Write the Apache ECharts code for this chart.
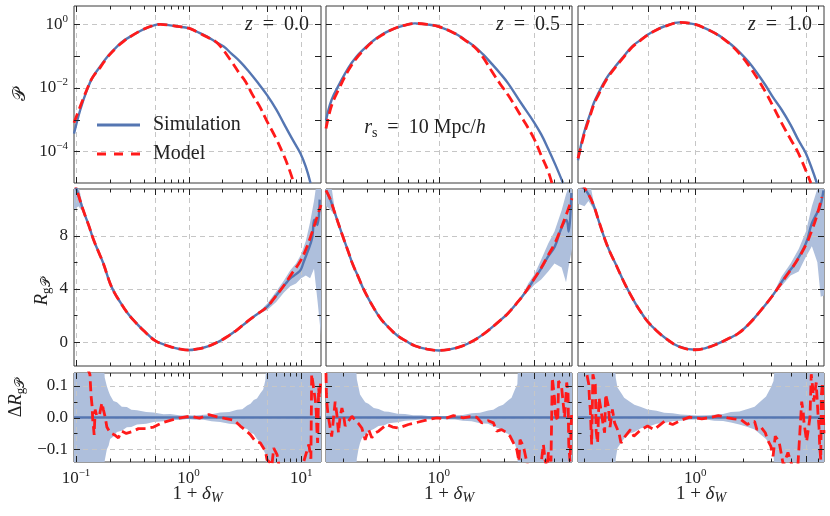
<!DOCTYPE html>
<html>
<head>
<meta charset="UTF-8">
<title></title>
<script type="text/javascript" src="https://cdn.jsdelivr.net/npm/echarts@6/dist/echarts.min.js"></script>
<style type="text/css">
* { padding: 0; margin: 0; }
#main { width: 830px; height: 516px; background: #fff; }
</style>
</head>
<body>
<div id="main"></div>
<script type="text/javascript">
// ---- column 0 : z = 0.0 ----
var pdfSimX0 = [0.096, 0.109, 0.125, 0.14, 0.164, 0.19, 0.231, 0.27, 0.324, 0.397, 0.5, 0.56, 0.687, 0.8, 1.0, 1.2, 1.46, 1.7, 2.05, 2.4, 2.88, 3.4, 4.06, 4.98, 6.0, 7.0, 8.3, 9.86, 11.0, 12.1];
var pdfSim0 = [3.6e-4, 2.0e-3, 8.5e-3, 0.021, 0.047, 0.095, 0.20, 0.32, 0.47, 0.70, 0.95, 1.02, 0.93, 0.86, 0.76, 0.575, 0.41, 0.295, 0.20, 0.12, 0.066, 0.034, 0.0155, 5.9e-3, 2.1e-3, 7.6e-4, 2.5e-4, 8.5e-5, 3.2e-5, 1.0e-5];
var pdfModX0 = [0.096, 0.11, 0.125, 0.14, 0.165, 0.19, 0.23, 0.27, 0.32, 0.397, 0.5, 0.56, 0.687, 0.8, 1.0, 1.2, 1.46, 1.8, 2.35, 2.8, 3.2, 3.7, 4.3, 5.0, 5.9, 6.8, 7.7, 8.6];
var pdfMod0 = [7.9e-4, 2.8e-3, 8.9e-3, 0.021, 0.045, 0.092, 0.19, 0.31, 0.46, 0.70, 0.95, 1.0, 0.93, 0.86, 0.76, 0.57, 0.40, 0.26, 0.076, 0.03, 0.0158, 6.0e-3, 2.5e-3, 8.5e-4, 2.8e-4, 9.5e-5, 3.2e-5, 1.0e-5];

var rSimX0 = [0.095, 0.102, 0.116, 0.13, 0.143, 0.16, 0.175, 0.201, 0.22, 0.247, 0.28, 0.324, 0.4, 0.505, 0.6, 0.687, 0.83, 1.0, 1.2, 1.46, 1.8, 2.2, 2.7, 3.31, 4.0, 4.98, 5.7, 6.55, 7.3, 8.04, 9.0, 9.86, 10.5, 11.3, 12.5, 13.1, 13.9, 14.6];
var rSim0 = [12.2, 11.4, 9.9, 8.75, 7.7, 6.7, 5.9, 4.4, 3.7, 3.0, 2.3, 1.65, 0.85, 0.10, -0.18, -0.35, -0.52, -0.6, -0.52, -0.35, -0.02, 0.40, 0.92, 1.53, 2.05, 2.65, 3.25, 3.9, 4.4, 4.8, 5.1, 5.4, 6.0, 6.7, 7.8, 9.2, 8.8, 10.7];
var rModX0 = [0.095, 0.102, 0.116, 0.13, 0.143, 0.16, 0.175, 0.201, 0.22, 0.247, 0.28, 0.324, 0.4, 0.505, 0.6, 0.687, 0.83, 1.0, 1.2, 1.46, 1.8, 2.2, 2.7, 3.31, 4.0, 4.98, 5.7, 6.55, 7.3, 8.04, 9.86, 11.3, 12.9, 15];
var rMod0 = [12.3, 11.4, 9.9, 8.75, 7.7, 6.7, 5.9, 4.4, 3.7, 3.0, 2.3, 1.65, 0.85, 0.10, -0.18, -0.35, -0.52, -0.6, -0.52, -0.35, -0.02, 0.40, 0.92, 1.53, 2.05, 2.65, 3.25, 3.9, 4.45, 5.0, 6.1, 7.2, 8.6, 10.3];
// band pieces are separated by null
var rBandX0 = [0.095, 0.105, 0.116, 0.13, null, 4.0, 5.0, 6.0, 7.0, 8.0, 9.0, 10, 11, 12, 13, 14, 15];
var rBandLo0 = [9.9, 10.2, 9.75, 8.75, null, 2.05, 2.4, 3.0, 3.7, 4.2, 4.4, 4.8, 5.0, 4.8, 5.5, 3.0, 0.5];
var rBandHi0 = [12.5, 11.8, 10.1, 8.75, null, 2.05, 2.9, 3.8, 4.6, 5.4, 5.9, 6.6, 7.6, 9.0, 10.6, 12.5, 12.5];

var dBandX0 = [0.095, 0.175, 0.18, 0.188, 0.195, 0.201, 0.215, 0.231, 0.255, 0.283, 0.31, 0.348, 0.42, 0.489, 0.6, 0.687, 0.85, 0.967, 1.15, 1.36, 1.6, 1.91, 2.3, 2.70, 3.0, 3.31, 3.55, 3.79, 4.05, 4.34, 4.6, 4.81, 4.98, 15];
var dBandHi0 = [0.2, 0.2, 0.125, 0.098, 0.082, 0.07, 0.052, 0.048, 0.034, 0.033, 0.024, 0.023, 0.017, 0.016, 0.01, 0.011, 0.006, 0.007, 0.006, 0.009, 0.01, 0.016, 0.017, 0.024, 0.026, 0.038, 0.043, 0.055, 0.06, 0.076, 0.088, 0.118, 0.2, 0.2];
var dBandLo0 = [-0.2, -0.2, -0.135, -0.1, -0.088, -0.068, -0.06, -0.046, -0.042, -0.031, -0.03, -0.022, -0.02, -0.014, -0.012, -0.008, -0.008, -0.005, -0.007, -0.007, -0.012, -0.014, -0.02, -0.022, -0.032, -0.036, -0.048, -0.052, -0.068, -0.078, -0.1, -0.115, -0.2, -0.2];
var dMod0 = [[0.095, 0.18], [0.125, 0.16], [0.133, 0.135], [0.136, 0.07], [0.139, 0.035], [0.141, -0.01], [0.143, -0.03], [0.145, -0.055], [0.148, 0.025], [0.153, 0.004], [0.162, 0.01], [0.17, 0.046], [0.175, 0.025], [0.182, 0.0], [0.188, -0.03], [0.201, -0.048], [0.22, -0.055], [0.238, -0.064], [0.255, -0.043], [0.28, -0.05], [0.313, -0.045], [0.359, -0.035], [0.42, -0.035], [0.489, -0.03], [0.58, -0.017], [0.7, -0.008], [0.844, -0.001], [1.035, 0.004], [1.25, -0.002], [1.51, 0.009], [1.79, 0.002], [2.1, -0.003], [2.52, -0.008], [2.88, -0.027], [3.2, -0.04], [3.54, -0.054], [3.92, -0.075], [4.34, -0.08], [4.81, -0.106], [4.98, -0.133], [5.33, -0.143], [5.5, -0.15], [5.7, -0.096], [6.11, -0.117], [6.5, -0.17], [9.0, -0.22], [11.7, -0.085], [12.2, -0.13], [12.4, 0.136], [12.7, 0.11], [13.4, 0.05], [13.6, 0.02], [13.8, -0.04], [14.0, -0.08], [14.3, 0.094], [14.5, 0.062], [15, 0.12]];

// ---- column 1 : z = 0.5 ----
var pdfSimX1 = [0.150, 0.165, 0.189, 0.218, 0.25, 0.288, 0.33, 0.382, 0.44, 0.5, 0.58, 0.668, 0.82, 1.0, 1.31, 1.55, 1.83, 2.1, 2.42, 2.8, 3.21, 4.01, 4.94, 5.6, 6.28, 7.1, 8.08];
var pdfSim1 = [9.5e-4, 4.2e-3, 0.0138, 0.042, 0.095, 0.178, 0.30, 0.47, 0.65, 0.81, 0.97, 1.08, 1.0, 0.85, 0.52, 0.33, 0.20, 0.115, 0.059, 0.029, 0.0138, 3.2e-3, 8.5e-4, 3.4e-4, 1.23e-4, 3.8e-5, 1.0e-5];
var pdfModX1 = [0.150, 0.165, 0.189, 0.218, 0.25, 0.288, 0.33, 0.382, 0.44, 0.5, 0.58, 0.668, 0.82, 1.0, 1.31, 1.55, 1.83, 2.1, 2.42, 2.8, 3.21, 4.01, 4.94, 5.6, 6.28, 6.7];
var pdfMod1 = [5.2e-4, 2.8e-3, 0.0105, 0.035, 0.085, 0.166, 0.29, 0.45, 0.64, 0.81, 0.97, 1.07, 1.0, 0.85, 0.52, 0.32, 0.19, 0.093, 0.035, 0.0135, 5.9e-3, 1.23e-3, 2.6e-4, 7.4e-5, 2.4e-5, 1.0e-5];

var rSimX1 = [0.150, 0.160, 0.174, 0.195, 0.218, 0.236, 0.258, 0.28, 0.305, 0.34, 0.382, 0.44, 0.5, 0.58, 0.668, 0.82, 1.0, 1.2, 1.46, 1.8, 2.17, 2.65, 3.21, 3.7, 4.24, 4.94, 5.62, 6.28, 7.03, 7.86, 8.55, 8.89, 9.3];
var rSim1 = [11.4, 10.8, 9.7, 8.2, 6.8, 5.8, 4.9, 4.05, 3.3, 2.45, 1.67, 1.0, 0.47, 0.06, -0.28, -0.53, -0.63, -0.55, -0.33, 0.12, 0.67, 1.4, 2.17, 2.9, 3.67, 4.67, 5.55, 6.42, 7.17, 8.55, 9.17, 8.3, 11.2];
var rModX1 = [0.150, 0.160, 0.174, 0.195, 0.218, 0.236, 0.258, 0.28, 0.305, 0.34, 0.382, 0.44, 0.5, 0.58, 0.668, 0.82, 1.0, 1.2, 1.46, 1.8, 2.17, 2.65, 3.21, 3.7, 4.24, 4.94, 5.62, 6.28, 7.03, 7.86, 8.55, 9.4];
var rMod1 = [11.4, 10.8, 9.7, 8.2, 6.8, 5.8, 4.9, 4.05, 3.3, 2.45, 1.67, 1.0, 0.47, 0.06, -0.28, -0.53, -0.63, -0.55, -0.33, 0.12, 0.67, 1.4, 2.17, 2.9, 3.67, 4.7, 5.6, 6.5, 7.4, 8.6, 9.6, 10.8];
var rBandX1 = [0.15, 0.16, 0.174, 0.19, null, 4.0, 4.5, 5.0, 5.6, 6.3, 7.0, 7.9, 8.5, 9.0, 9.4];
var rBandLo1 = [10.2, 10.0, 9.5, 8.5, null, 3.35, 3.8, 4.3, 4.7, 5.3, 5.9, 5.6, 4.5, 6.0, 7.0];
var rBandHi1 = [12.5, 12.5, 9.95, 8.5, null, 3.35, 4.4, 5.1, 6.2, 7.4, 8.3, 9.9, 11.1, 11.8, 12.5];

var dBandX1 = [0.15, 0.245, 0.252, 0.259, 0.266, 0.274, 0.29, 0.306, 0.335, 0.363, 0.4, 0.43, 0.5, 0.567, 0.65, 0.751, 0.87, 1.0, 1.15, 1.31, 1.5, 1.74, 2.0, 2.30, 2.5, 2.73, 2.95, 3.22, 3.4, 3.61, 3.75, 3.82, 9.4];
var dBandHi1 = [0.2, 0.2, 0.12, 0.096, 0.072, 0.064, 0.048, 0.043, 0.03, 0.027, 0.019, 0.018, 0.012, 0.011, 0.007, 0.007, 0.004, 0.005, 0.004, 0.007, 0.008, 0.013, 0.015, 0.022, 0.024, 0.035, 0.04, 0.054, 0.062, 0.09, 0.105, 0.2, 0.2];
var dBandLo1 = [-0.2, -0.2, -0.13, -0.1, -0.08, -0.066, -0.055, -0.044, -0.036, -0.027, -0.024, -0.018, -0.015, -0.01, -0.009, -0.006, -0.006, -0.004, -0.006, -0.006, -0.01, -0.012, -0.018, -0.02, -0.028, -0.034, -0.045, -0.052, -0.068, -0.085, -0.11, -0.2, -0.2];
var dMod1 = [[0.150, 0.14], [0.151, 0.075], [0.152, 0.05], [0.155, 0.01], [0.165, -0.06], [0.175, 0.05], [0.18, 0.01], [0.182, -0.012], [0.185, -0.048], [0.19, 0.0], [0.196, 0.03], [0.201, 0.01], [0.207, -0.027], [0.22, -0.01], [0.232, 0.004], [0.245, -0.009], [0.26, -0.02], [0.274, -0.033], [0.29, -0.07], [0.3, -0.05], [0.307, -0.038], [0.324, -0.064], [0.34, -0.05], [0.363, -0.043], [0.417, -0.022], [0.46, -0.03], [0.508, -0.033], [0.6, -0.022], [0.7, -0.015], [0.794, -0.009], [0.967, -0.001], [1.1, -0.004], [1.28, 0.006], [1.51, -0.001], [1.7, 0.003], [1.89, 0.001], [2.06, -0.017], [2.3, -0.01], [2.51, -0.017], [2.65, -0.043], [2.88, -0.038], [3.14, -0.048], [3.32, -0.059], [3.51, -0.08], [3.71, -0.1], [3.85, -0.138], [3.92, -0.07], [4.15, -0.09], [4.6, -0.18], [5.4, -0.2], [5.81, -0.085], [5.97, -0.133], [6.2, -0.16], [6.32, -0.11], [6.6, -0.138], [6.75, 0.125], [7.0, 0.062], [7.1, 0.01], [7.4, -0.012], [7.5, 0.115], [7.9, 0.094], [8.3, 0.0], [8.6, 0.11], [8.8, 0.073], [8.9, -0.085], [9.09, -0.138], [9.35, 0.02]];

// ---- column 2 : z = 1.0 ----
var pdfSimX2 = [0.182, 0.193, 0.205, 0.218, 0.23, 0.245, 0.275, 0.313, 0.355, 0.399, 0.45, 0.5, 0.57, 0.647, 0.796, 1.0, 1.15, 1.34, 1.52, 1.70, 1.93, 2.17, 2.45, 2.77, 3.1, 3.52, 4.0, 4.49, 5.0, 5.86];
var pdfSim2 = [5.2e-5, 2.2e-4, 6.5e-4, 1.6e-3, 3.5e-3, 6.8e-3, 0.020, 0.047, 0.10, 0.20, 0.32, 0.47, 0.68, 0.89, 1.16, 1.0, 0.76, 0.52, 0.35, 0.224, 0.125, 0.066, 0.030, 0.0123, 5.0e-3, 2.0e-3, 6.8e-4, 2.2e-4, 8.5e-5, 1.0e-5];
var pdfModX2 = [0.182, 0.193, 0.205, 0.218, 0.23, 0.245, 0.275, 0.313, 0.355, 0.399, 0.45, 0.5, 0.57, 0.647, 0.796, 1.0, 1.15, 1.34, 1.52, 1.70, 1.93, 2.17, 2.45, 2.77, 3.1, 3.52, 4.0, 4.49, 5.37];
var pdfMod2 = [6.0e-5, 1.9e-4, 5.6e-4, 1.4e-3, 3.1e-3, 6.0e-3, 0.018, 0.044, 0.095, 0.19, 0.31, 0.46, 0.67, 0.87, 1.15, 1.0, 0.76, 0.52, 0.34, 0.214, 0.11, 0.052, 0.021, 7.6e-3, 2.6e-3, 7.6e-4, 2.4e-4, 8.5e-5, 1.0e-5];

var rSimX2 = [0.184, 0.2, 0.212, 0.228, 0.245, 0.270, 0.29, 0.313, 0.362, 0.418, 0.46, 0.5, 0.57, 0.647, 0.785, 1.0, 1.15, 1.34, 1.6, 1.88, 2.2, 2.51, 3.05, 3.70, 4.27, 5.0, 5.45, 5.86, 6.15, 6.45];
var rSim2 = [11.8, 11.5, 11.1, 10.3, 9.17, 7.67, 6.75, 5.92, 4.3, 2.93, 2.15, 1.55, 0.85, 0.30, -0.33, -0.58, -0.47, -0.2, 0.22, 0.67, 1.4, 2.17, 3.42, 4.92, 5.92, 7.42, 8.93, 9.67, 10.17, 11.4];
var rModX2 = [0.19, 0.212, 0.228, 0.245, 0.270, 0.29, 0.313, 0.362, 0.418, 0.46, 0.5, 0.57, 0.647, 0.785, 1.0, 1.15, 1.34, 1.6, 1.88, 2.2, 2.51, 3.05, 3.70, 4.27, 5.0, 5.45, 5.86, 6.3];
var rMod2 = [12.0, 11.1, 10.3, 9.17, 7.67, 6.75, 5.92, 4.3, 2.93, 2.15, 1.55, 0.85, 0.30, -0.33, -0.58, -0.47, -0.2, 0.22, 0.67, 1.4, 2.17, 3.42, 4.85, 5.9, 7.3, 8.4, 9.5, 10.9];
var rBandX2 = [0.182, 0.2, 0.212, 0.228, 0.25, null, 3.05, 3.5, 4.0, 4.5, 5.0, 5.45, 5.9, 6.2, 6.5];
var rBandLo2 = [10.4, 10.2, 10.6, 10.0, 8.9, null, 3.42, 4.2, 5.0, 5.3, 6.4, 7.2, 6.0, 3.4, 3.5];
var rBandHi2 = [12.5, 12.5, 12.5, 10.6, 8.9, null, 3.42, 4.9, 5.9, 7.0, 8.3, 10.2, 11.5, 12.5, 12.5];

var dBandX2 = [0.182, 0.308, 0.315, 0.323, 0.34, 0.356, 0.385, 0.413, 0.455, 0.5, 0.57, 0.637, 0.72, 0.81, 0.92, 1.03, 1.17, 1.32, 1.5, 1.68, 1.9, 2.14, 2.37, 2.6, 2.8, 3.0, 3.12, 3.24, 6.5];
var dBandHi2 = [0.2, 0.2, 0.125, 0.094, 0.078, 0.062, 0.05, 0.04, 0.033, 0.025, 0.021, 0.015, 0.013, 0.0095, 0.008, 0.006, 0.007, 0.009, 0.011, 0.017, 0.019, 0.027, 0.034, 0.052, 0.066, 0.094, 0.115, 0.2, 0.2];
var dBandLo2 = [-0.2, -0.2, -0.13, -0.096, -0.08, -0.066, -0.05, -0.046, -0.034, -0.03, -0.02, -0.017, -0.012, -0.01, -0.007, -0.006, -0.006, -0.01, -0.011, -0.016, -0.022, -0.03, -0.038, -0.054, -0.068, -0.092, -0.12, -0.2, -0.2];
var dMod2 = [[0.182, 0.17], [0.2, 0.15], [0.207, 0.136], [0.213, 0.104], [0.215, 0.057], [0.218, 0.02], [0.22, -0.038], [0.222, -0.085], [0.226, 0.136], [0.234, 0.104], [0.237, -0.043], [0.242, -0.08], [0.247, 0.062], [0.252, 0.036], [0.262, -0.022], [0.268, -0.048], [0.272, 0.073], [0.283, 0.036], [0.29, -0.03], [0.30, 0.025], [0.31, -0.017], [0.33, -0.048], [0.34, -0.08], [0.36, -0.06], [0.39, -0.038], [0.41, -0.059], [0.45, -0.04], [0.5, -0.027], [0.55, -0.038], [0.64, -0.012], [0.72, -0.022], [0.82, -0.008], [0.92, 0.001], [1.1, -0.004], [1.25, 0.0], [1.4, 0.006], [1.6, -0.001], [1.75, -0.004], [1.93, -0.006], [2.13, -0.022], [2.25, -0.015], [2.37, -0.012], [2.45, -0.038], [2.6, -0.03], [2.77, -0.048], [2.86, -0.07], [3.0, -0.09], [3.1, -0.122], [3.2, -0.059], [3.38, -0.075], [3.6, -0.15], [3.85, -0.11], [4.0, -0.138], [4.4, -0.19], [4.7, 0.05], [4.8, 0.02], [4.85, -0.012], [5.05, -0.075], [5.3, 0.0], [5.4, 0.136], [5.5, 0.1], [5.6, 0.05], [5.8, 0.11], [5.95, 0.015], [6.05, -0.033], [6.1, -0.085], [6.2, -0.133], [6.25, 0.067], [6.35, 0.11], [6.5, -0.05]];

// panel texts and ticks
var zLabels = ['0.0', '0.5', '1.0'];
var xMajor = [0.1, 0.5, 1, 5, 10];
var xMinor = [0.2, 0.3, 0.4, 0.6, 0.7, 0.8, 0.9, 2, 3, 4, 6, 7, 8, 9];
var yGrid = [[1e-4, 1e-2, 1], [0, 4, 8], [-0.1, 0, 0.1]];
var yTickMaj = [[1e-5, 1e-4, 1e-3, 1e-2, 1e-1, 1], [0, 4, 8], [-0.1, 0, 0.1]];
var yTickMin = [[], [2, 6, 10], [-0.05, 0.05]];

var xLim = [[0.096, 15], [0.15, 9.4], [0.182, 6.5]];
var yLim = [[1e-5, 3.8], [-1.8, 11.5], [-0.14, 0.14]];

var cols = [{ left: 74, width: 247 }, { left: 326, width: 246 }, { left: 578, width: 246 }];
var rows = [{ top: 6, height: 177 }, { top: 189, height: 177 }, { top: 373, height: 89 }];

var FONT = '"Liberation Serif", "DejaVu Serif", serif';
var TXT = '#222';
var BLUE = '#5576b2';
var BAND = '#aebfdc';
var RED = '#ff1a1a';
var GRID = '#c6c6c6';

var rich = {
  sup: { fontFamily: FONT, fontSize: 11, lineHeight: 11, verticalAlign: 'top', color: TXT },
  sub: { fontFamily: FONT, fontSize: 13, lineHeight: 12, verticalAlign: 'bottom', color: TXT },
  subi: { fontFamily: FONT, fontSize: 14, lineHeight: 12, verticalAlign: 'bottom', fontStyle: 'italic', color: TXT },
  i: { fontFamily: FONT, fontSize: 19, lineHeight: 22, fontStyle: 'italic', color: TXT },
  bi: { fontFamily: FONT, fontSize: 20, lineHeight: 24, fontStyle: 'italic', color: TXT },
  bsub: { fontFamily: FONT, fontSize: 14, lineHeight: 12, verticalAlign: 'bottom', color: TXT },
  b: { fontFamily: FONT, fontSize: 20, lineHeight: 24, color: TXT }
};

var cols3 = [
  { pdfSx: pdfSimX0, pdfS: pdfSim0, pdfMx: pdfModX0, pdfM: pdfMod0, rSx: rSimX0, rS: rSim0, rMx: rModX0, rM: rMod0, rBx: rBandX0, rBl: rBandLo0, rBh: rBandHi0, dBx: dBandX0, dBl: dBandLo0, dBh: dBandHi0, dM: dMod0 },
  { pdfSx: pdfSimX1, pdfS: pdfSim1, pdfMx: pdfModX1, pdfM: pdfMod1, rSx: rSimX1, rS: rSim1, rMx: rModX1, rM: rMod1, rBx: rBandX1, rBl: rBandLo1, rBh: rBandHi1, dBx: dBandX1, dBl: dBandLo1, dBh: dBandHi1, dM: dMod1 },
  { pdfSx: pdfSimX2, pdfS: pdfSim2, pdfMx: pdfModX2, pdfM: pdfMod2, rSx: rSimX2, rS: rSim2, rMx: rModX2, rM: rMod2, rBx: rBandX2, rBl: rBandLo2, rBh: rBandHi2, dBx: dBandX2, dBl: dBandLo2, dBh: dBandHi2, dM: dMod2 }
];

function zip(xs, ys) {
  return xs.map(function (x, i) { return [x, ys[i]]; });
}

function minus(s) { return String(s).replace('-', '\u2212'); }

function isClose(a, b) { return Math.abs(a - b) < 1e-6; }

function logFmt(even) {
  return function (v) {
    var e = Math.log10(v), r = Math.round(e);
    if (!isClose(e, r)) return '';
    if (even && r % 2 !== 0) return '';
    return '10{sup|' + minus(r) + '}';
  };
}

var yFmt = [
  logFmt(true),
  function (v) { return isClose(v / 4, Math.round(v / 4)) ? minus(Math.round(v)) : ''; },
  function (v) { var r = Math.round(v * 10); return isClose(v * 10, r) ? minus((r / 10).toFixed(1)) : ''; }
];

function lineSeries(k, data, color, dashed, width, name, z, smooth) {
  return {
    type: 'line', name: name, xAxisIndex: k, yAxisIndex: k,
    data: data, showSymbol: false, symbol: 'none', clip: true, z: z,
    smooth: smooth, silent: true,
    lineStyle: { color: color, width: width, type: dashed ? [10, 5] : 'solid', cap: 'butt' },
    itemStyle: { color: color }
  };
}

function bandSeries(k, ci, ri, bx, lo, hi) {
  return {
    type: 'custom', xAxisIndex: k, yAxisIndex: k, z: 1, silent: true, clip: true,
    data: [[xLim[ci][0], yLim[ri][0]]],
    renderItem: function (params, api) {
      var kids = [], up = [], dn = [];
      function flush() {
        if (up.length > 1) {
          kids.push({ type: 'polygon', shape: { points: up.concat(dn.reverse()) }, style: { fill: BAND } });
        }
        up = []; dn = [];
      }
      for (var i = 0; i < bx.length; i++) {
        if (bx[i] === null) { flush(); continue; }
        up.push(api.coord([bx[i], hi[i]]));
        dn.push(api.coord([bx[i], lo[i]]));
      }
      flush();
      return { type: 'group', children: kids };
    }
  };
}

function decorSeries(k, ci, ri, ticks) {
  var xr = xLim[ci], yr = yLim[ri];
  return {
    type: 'custom', xAxisIndex: k, yAxisIndex: k, silent: true,
    z: ticks ? 20 : 2, clip: false,
    data: [[xr[0], yr[0]]],
    renderItem: function (params, api) {
      var cs = params.coordSys;
      var x0 = cs.x, x1 = cs.x + cs.width, y0 = cs.y, y1 = cs.y + cs.height;
      var kids = [];
      function px(v) { return Math.round(api.coord([v, yr[0]])[0]) + 0.5; }
      function py(v) { return Math.round(api.coord([xr[0], v])[1]) + 0.5; }
      function seg(a, b, c, d, st) { kids.push({ type: 'line', shape: { x1: a, y1: b, x2: c, y2: d }, style: st }); }
      function inX(v) { return v > xr[0] * 1.001 && v < xr[1] * 0.999; }
      function inY(v) { return v > yr[0] && v < yr[1]; }
      if (!ticks) {
        var gs = { stroke: GRID, lineWidth: 1, lineDash: [5, 4] };
        xMajor.forEach(function (v) { if (inX(v)) { var p = px(v); seg(p, y0, p, y1, gs); } });
        yGrid[ri].forEach(function (v) { if (inY(v)) { var q = py(v); seg(x0, q, x1, q, gs); } });
      } else {
        var ts = { stroke: TXT, lineWidth: 1 };
        xMajor.concat(xMinor).forEach(function (v, j) {
          if (!(v >= xr[0] && v <= xr[1])) return;
          var len = j < xMajor.length ? 6 : 3.5, p = px(v);
          seg(p, y1, p, y1 - len, ts);
          seg(p, y0, p, y0 + len, ts);
        });
        yTickMaj[ri].concat(yTickMin[ri]).forEach(function (v, j) {
          if (!inY(v)) return;
          var len = j < yTickMaj[ri].length ? 6 : 3.5, q = py(v);
          seg(x0, q, x0 + len, q, ts);
          seg(x1, q, x1 - len, q, ts);
        });
      }
      return { type: 'group', children: kids };
    }
  };
}

var grids = [], xAxes = [], yAxes = [], series = [];

for (var ri = 0; ri < 3; ri++) {
  for (var ci = 0; ci < 3; ci++) {
    var k = ri * 3 + ci;
    var c = cols3[ci];
    grids.push({
      left: cols[ci].left, width: cols[ci].width, top: rows[ri].top, height: rows[ri].height,
      show: true, borderColor: '#3a3a3a', borderWidth: 1, containLabel: false
    });
    xAxes.push({
      type: 'log', logBase: 10, gridIndex: k, min: xLim[ci][0], max: xLim[ci][1],
      axisLine: { show: false }, axisTick: { show: false }, splitLine: { show: false },
      axisLabel: {
        show: ri === 2, formatter: logFmt(false), margin: 6,
        fontFamily: FONT, fontSize: 17, lineHeight: 22, color: TXT, rich: rich
      },
      name: ri === 2 ? '1 + {i|\u03b4}{subi|W}' : '',
      nameLocation: 'middle', nameGap: 21, nameMoveOverlap: false,
      nameTextStyle: { fontFamily: FONT, fontSize: 19, lineHeight: 22, color: TXT, rich: rich }
    });
    yAxes.push({
      type: ri === 0 ? 'log' : 'value', logBase: 10, gridIndex: k,
      min: yLim[ri][0], max: yLim[ri][1], splitNumber: ri === 1 ? 7 : 5,
      axisLine: { show: false }, axisTick: { show: false }, splitLine: { show: false },
      axisLabel: {
        show: ci === 0, formatter: yFmt[ri], margin: 6,
        fontFamily: FONT, fontSize: 17, lineHeight: 22, color: TXT, rich: rich
      }
    });

    series.push(decorSeries(k, ci, ri, false));
    series.push(decorSeries(k, ci, ri, true));
    if (ri === 0) {
      series.push(lineSeries(k, zip(c.pdfSx, c.pdfS), BLUE, false, 2.4, 'Simulation', 5, 0.4));
      series.push(lineSeries(k, zip(c.pdfMx, c.pdfM), RED, true, 2.8, 'Model', 6, 0.4));
    } else if (ri === 1) {
      series.push(bandSeries(k, ci, ri, c.rBx, c.rBl, c.rBh));
      series.push(lineSeries(k, zip(c.rSx, c.rS), BLUE, false, 2.4, 'Simulation', 5, 0.4));
      series.push(lineSeries(k, zip(c.rMx, c.rM), RED, true, 2.8, 'Model', 6, 0.4));
    } else {
      series.push(bandSeries(k, ci, ri, c.dBx, c.dBl, c.dBh));
      series.push(lineSeries(k, [[xLim[ci][0], 0], [xLim[ci][1], 0]], BLUE, false, 2.4, 'Simulation', 5, false));
      series.push(lineSeries(k, c.dM, RED, true, 2.8, 'Model', 6, false));
    }
  }
}

var graphics = [];
var zRight = [309, 560, 812];
for (var j = 0; j < 3; j++) {
  graphics.push({
    type: 'text', x: zRight[j], y: 25, z: 30,
    style: { text: '{bi|z}{b|  =  ' + zLabels[j] + '}', fontFamily: FONT, fontSize: 20, lineHeight: 24, fill: TXT, align: 'right', verticalAlign: 'middle', rich: rich }
  });
}
graphics.push({
  type: 'text', x: 425, y: 128, z: 30,
  style: { text: '{bi|r}{bsub|s}{b|  =  10 Mpc/}{bi|h}', fontFamily: FONT, fontSize: 20, lineHeight: 24, fill: TXT, align: 'center', verticalAlign: 'middle', rich: rich }
});
graphics.push({
  type: 'text', x: 20, y: 94, rotation: Math.PI / 2, z: 30,
  style: { text: '\ud835\udcab', fontFamily: FONT, fontSize: 18, fill: TXT, align: 'center', verticalAlign: 'middle' }
});
graphics.push({
  type: 'text', x: 42, y: 292, rotation: Math.PI / 2, z: 30,
  style: { text: '{i|R}{sub|g\ud835\udcab}', fontFamily: FONT, fontSize: 18, lineHeight: 22, fill: TXT, align: 'center', verticalAlign: 'middle', rich: rich }
});
graphics.push({
  type: 'text', x: 16, y: 398, rotation: Math.PI / 2, z: 30,
  style: { text: '\u0394{i|R}{sub|g\ud835\udcab}', fontFamily: FONT, fontSize: 18, lineHeight: 22, fill: TXT, align: 'center', verticalAlign: 'middle', rich: rich }
});

var myChart = echarts.init(document.getElementById('main'));
myChart.setOption({
  animation: false,
  backgroundColor: '#fff',
  grid: grids,
  xAxis: xAxes,
  yAxis: yAxes,
  legend: {
    data: [
      { name: 'Simulation', icon: 'rect' },
      { name: 'Model', icon: 'path://M0,0h9v3h-9zM17,0h9v3h-9zM34,0h9v3h-9z' }
    ],
    orient: 'vertical', left: 92, top: 109,
    itemWidth: 43, itemHeight: 3, itemGap: 7, selectedMode: false,
    itemStyle: { borderWidth: 0 },
    textStyle: { fontFamily: FONT, fontSize: 20, lineHeight: 22, color: TXT, padding: [0, 0, 0, 8] }
  },
  graphic: graphics,
  series: series
});
</script>
</body>
</html>
